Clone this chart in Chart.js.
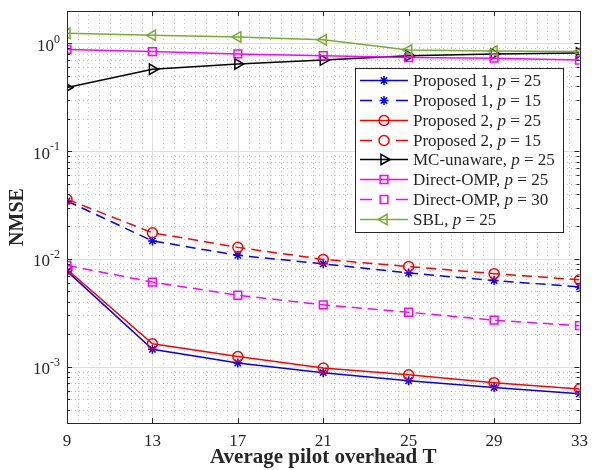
<!DOCTYPE html>
<html>
<head>
<meta charset="utf-8">
<script src="https://cdn.jsdelivr.net/npm/chart.js@4.4.1/dist/chart.umd.min.js"></script>
<style>
  html, body { margin: 0; padding: 0; background: #ffffff; }
  #wrap { width: 596px; height: 470px; position: relative; }
</style>
</head>
<body>
<div id="wrap"><canvas id="c" width="596" height="470"></canvas></div>
<script>
// ---------------- data ----------------
const pilotOverhead = [9, 13, 17, 21, 25, 29, 33];
const xTickValues = [9, 13, 17, 21, 25, 29, 33];
const yDecades = [1e-3, 1e-2, 1e-1, 1];
const yDecadeExponents = ['-3', '-2', '-1', '0'];

const proposed1_p25 = [7.7e-3, 1.45e-3, 1.08e-3, 8.8e-4, 7.4e-4, 6.4e-4, 5.6e-4];
const proposed1_p15 = [0.0345, 0.0147, 0.0108, 9.0e-3, 7.4e-3, 6.3e-3, 5.5e-3];
const proposed2_p25 = [8.0e-3, 1.63e-3, 1.24e-3, 9.7e-4, 8.4e-4, 7.1e-4, 6.2e-4];
const proposed2_p15 = [0.0358, 0.0175, 0.0128, 9.9e-3, 8.5e-3, 7.3e-3, 6.4e-3];
const mcUnaware_p25 = [0.39, 0.575, 0.645, 0.70, 0.77, 0.80, 0.815];
const directOMP_p25 = [0.88, 0.84, 0.80, 0.77, 0.74, 0.73, 0.70];
const directOMP_p30 = [8.7e-3, 6.1e-3, 4.6e-3, 3.75e-3, 3.2e-3, 2.7e-3, 2.4e-3];
const sbl_p25 = [1.24, 1.19, 1.15, 1.08, 0.87, 0.85, 0.84];

const seriesNames = ['Proposed 1, ', 'Proposed 1, ', 'Proposed 2, ', 'Proposed 2, ',
                     'MC-unaware, ', 'Direct-OMP, ', 'Direct-OMP, ', 'SBL, '];
const seriesP = ['25', '15', '25', '15', '25', '25', '30', '25'];

// ---------------- styles ----------------
const SERIF = "'Liberation Serif', 'DejaVu Serif', serif";
const DASH = [10, 6];
const styles = [
  {color: '#0000ff', dash: [], point: 'star', r: 4.5, rot: 0},
  {color: '#0000ff', dash: DASH, point: 'star', r: 4.5, rot: 0},
  {color: '#ff0000', dash: [], point: 'circle', r: 5, rot: 0},
  {color: '#ff0000', dash: DASH, point: 'circle', r: 5, rot: 0},
  {color: '#000000', dash: [], point: 'triangle', r: 6, rot: 90},
  {color: '#ff00ff', dash: [], point: 'rect', r: 5.5, rot: 0},
  {color: '#ff00ff', dash: DASH, point: 'rect', r: 5.5, rot: 0},
  {color: '#77ac30', dash: [], point: 'triangle', r: 6, rot: -90},
];
const seriesValues = [proposed1_p25, proposed1_p15, proposed2_p25, proposed2_p15,
                      mcUnaware_p25, directOMP_p25, directOMP_p30, sbl_p25];

const datasets = seriesValues.map((vals, i) => ({
  label: seriesNames[i] + 'p = ' + seriesP[i],
  data: pilotOverhead.map((x, j) => ({x: x, y: vals[j]})),
  borderColor: styles[i].color,
  backgroundColor: 'rgba(0,0,0,0)',
  borderWidth: 1.5,
  borderDash: styles[i].dash,
  pointStyle: styles[i].point,
  pointRadius: styles[i].r,
  pointRotation: styles[i].rot,
  pointBorderWidth: 1.5,
  pointBorderColor: styles[i].color,
  pointBackgroundColor: 'rgba(0,0,0,0)',
  tension: 0,
  fill: false,
  order: seriesValues.length - i
}));

const AXCOL = '#262626';

function drawMarker(ctx, st, x, y) {
  const opts = {pointStyle: st.point, radius: st.r, rotation: st.rot, borderWidth: 1.5};
  ctx.save();
  ctx.strokeStyle = st.color;
  ctx.fillStyle = 'rgba(0,0,0,0)';
  ctx.lineWidth = 1.5;
  ctx.setLineDash([]);
  Chart.helpers.drawPoint(ctx, opts, x, y);
  ctx.restore();
}

const matlabAxes = {
  id: 'matlabAxes',
  beforeDatasetsDraw(chart) {
    const {ctx, chartArea: a, scales: {x, y}} = chart;
    ctx.save();
    ctx.beginPath();
    ctx.rect(a.left, a.top, a.right - a.left, a.bottom - a.top);
    ctx.clip();
    // minor grid (dotted)
    ctx.strokeStyle = 'rgba(38,38,38,0.25)';
    ctx.lineWidth = 1;
    ctx.setLineDash([1, 3]);
    for (let v = 9.5; v < 33; v += 0.5) {
      if ((v - 9) % 4 === 0) continue;
      const px = Math.round(x.getPixelForValue(v)) + 0.5;
      ctx.beginPath(); ctx.moveTo(px, a.top); ctx.lineTo(px, a.bottom); ctx.stroke();
    }
    for (let e = -4; e <= 0; e++) {
      for (let k = 2; k <= 9; k++) {
        const v = k * Math.pow(10, e);
        if (v < y.min || v > y.max) continue;
        const py = Math.round(y.getPixelForValue(v)) + 0.5;
        ctx.beginPath(); ctx.moveTo(a.left, py); ctx.lineTo(a.right, py); ctx.stroke();
      }
    }
    // major grid
    ctx.setLineDash([]);
    ctx.strokeStyle = '#dedede';
    xTickValues.forEach(v => {
      const px = Math.round(x.getPixelForValue(v)) + 0.5;
      ctx.beginPath(); ctx.moveTo(px, a.top); ctx.lineTo(px, a.bottom); ctx.stroke();
    });
    yDecades.forEach(v => {
      const py = Math.round(y.getPixelForValue(v)) + 0.5;
      ctx.beginPath(); ctx.moveTo(a.left, py); ctx.lineTo(a.right, py); ctx.stroke();
    });
    ctx.restore();
  },
  afterDatasetsDraw(chart) {
    const {ctx, chartArea: a, scales: {x, y}} = chart;
    ctx.save();
    ctx.strokeStyle = AXCOL;
    ctx.lineWidth = 1;
    ctx.setLineDash([]);
    ctx.strokeRect(Math.round(a.left) + 0.5, Math.round(a.top) + 0.5,
                   Math.round(a.right - a.left), Math.round(a.bottom - a.top));
    xTickValues.forEach(v => {
      const px = Math.round(x.getPixelForValue(v)) + 0.5;
      ctx.beginPath(); ctx.moveTo(px, a.bottom); ctx.lineTo(px, a.bottom - 5); ctx.stroke();
      ctx.beginPath(); ctx.moveTo(px, a.top); ctx.lineTo(px, a.top + 5); ctx.stroke();
    });
    for (let e = -4; e <= 0; e++) {
      for (let k = 1; k <= 9; k++) {
        const v = k * Math.pow(10, e);
        if (v < y.min || v > y.max) continue;
        const len = k === 1 ? 5 : 3;
        const py = Math.round(y.getPixelForValue(v)) + 0.5;
        ctx.beginPath(); ctx.moveTo(a.left, py); ctx.lineTo(a.left + len, py); ctx.stroke();
        ctx.beginPath(); ctx.moveTo(a.right, py); ctx.lineTo(a.right - len, py); ctx.stroke();
      }
    }
    ctx.fillStyle = AXCOL;
    ctx.textBaseline = 'middle';
    yDecades.forEach((v, i) => {
      const py = y.getPixelForValue(v);
      const exp = yDecadeExponents[i];
      ctx.font = '12px ' + SERIF;
      const ew = ctx.measureText(exp).width;
      const right = a.left - 7;
      ctx.textAlign = 'left';
      ctx.fillText(exp, right - ew, py - 4);
      ctx.font = '17px ' + SERIF;
      ctx.textAlign = 'right';
      ctx.fillText('10', right - ew, py + 3);
    });
    ctx.restore();
  },
  afterDraw(chart) {
    const ctx = chart.ctx;
    ctx.save();
    const L = 355, T = 68, R = 563, B = 232;
    ctx.fillStyle = '#ffffff';
    ctx.fillRect(L, T, R - L, B - T);
    ctx.strokeStyle = AXCOL;
    ctx.lineWidth = 1;
    ctx.strokeRect(L + 0.5, T + 0.5, R - L, B - T);
    const rowH = (219 - 80) / 7;
    for (let i = 0; i < seriesNames.length; i++) {
      const st = styles[i];
      const cy = Math.round(80 + i * rowH) + 0.5;
      ctx.strokeStyle = st.color;
      ctx.lineWidth = 1.5;
      ctx.setLineDash([]);
      if (st.dash.length) {
        ctx.beginPath(); ctx.moveTo(360, cy); ctx.lineTo(372, cy); ctx.stroke();
        ctx.beginPath(); ctx.moveTo(396, cy); ctx.lineTo(408, cy); ctx.stroke();
      } else {
        ctx.beginPath(); ctx.moveTo(360, cy); ctx.lineTo(408, cy); ctx.stroke();
      }
      drawMarker(ctx, st, 384, cy);
      ctx.fillStyle = AXCOL;
      ctx.textBaseline = 'middle';
      ctx.textAlign = 'left';
      let tx = 413;
      ctx.font = '17px ' + SERIF;
      ctx.fillText(seriesNames[i], tx, cy + 1);
      tx += ctx.measureText(seriesNames[i]).width;
      ctx.font = 'italic 17px ' + SERIF;
      ctx.fillText('p', tx, cy + 1);
      tx += ctx.measureText('p').width;
      ctx.font = '17px ' + SERIF;
      ctx.fillText(' = ' + seriesP[i], tx, cy + 1);
    }
    ctx.restore();
  }
};

new Chart(document.getElementById('c'), {
  type: 'line',
  data: {datasets: datasets},
  options: {
    responsive: false,
    animation: false,
    devicePixelRatio: 1,
    layout: {padding: {top: 11, right: 8, left: 0, bottom: 0}},
    plugins: {legend: {display: false}, tooltip: {enabled: false}},
    scales: {
      x: {
        type: 'linear',
        min: 9, max: 33,
        afterBuildTicks: (s) => { s.ticks = xTickValues.map(v => ({value: v})); },
        ticks: {color: AXCOL, font: {family: SERIF, size: 17}, padding: 8, maxRotation: 0,
                callback: (v) => String(v)},
        grid: {display: false, drawTicks: false},
        border: {display: false},
        title: {display: true, text: 'Average pilot overhead T', color: AXCOL,
                font: {family: SERIF, size: 21, weight: 'bold'}, padding: {top: 2, bottom: 0}},
        afterFit: (s) => { s.height = 47; }
      },
      y: {
        type: 'logarithmic',
        min: 3e-4, max: 2,
        ticks: {callback: () => '', font: {size: 1}},
        grid: {display: false, drawTicks: false},
        border: {display: false},
        title: {display: true, text: 'NMSE', color: AXCOL,
                font: {family: SERIF, size: 20, weight: 'bold'}, padding: {top: 6, bottom: 0}},
        afterFit: (s) => { s.width = 67; }
      }
    }
  },
  plugins: [matlabAxes]
});
</script>
</body>
</html>
